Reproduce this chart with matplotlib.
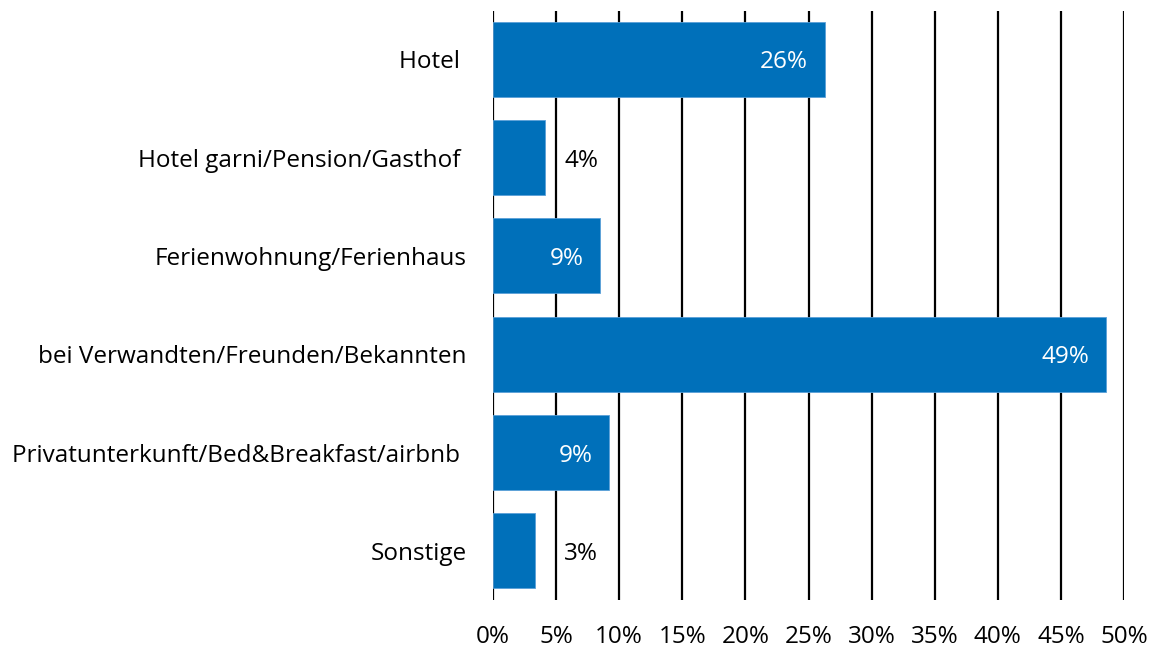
#!/usr/bin/env python3

import matplotlib
matplotlib.use('Agg')
import matplotlib.pyplot as plt

categories = [
    "Hotel ",
    "Hotel garni/Pension/Gasthof ",
    "Ferienwohnung/Ferienhaus",
    "bei Verwandten/Freunden/Bekannten",
    "Privatunterkunft/Bed&Breakfast/airbnb ",
    "Sonstige",
]
values = [26.3, 4.1, 8.5, 48.6, 9.2, 3.3]
value_labels = ["26%", "4%", "9%", "49%", "9%", "3%"]
label_inside = [True, False, True, True, True, False]
xticks = [0, 5, 10, 15, 20, 25, 30, 35, 40, 45, 50]

BLUE = '#0070BA'
FS = 17.5

plt.rcParams['font.family'] = ['Open Sans', 'DejaVu Sans']

fig = plt.figure(figsize=(11.56, 6.48), dpi=100)
ax = fig.add_axes([493/1156, 1 - 600/648, 631/1156, 589/648])

y = list(range(len(categories)))
ax.barh(y, values, height=0.765, color=BLUE, edgecolor='#5aa0d8',
        linewidth=0.6, zorder=3)

for yi, v, lab, inside in zip(y, values, value_labels, label_inside):
    if inside:
        ax.annotate(lab, (v, yi), xytext=(-12, 0), textcoords='offset points',
                    ha='right', va='center_baseline', color='white', fontsize=FS, zorder=4)
    else:
        # small bars: label sits just right of the first gridline
        ax.annotate(lab, (max(v, 4.1), yi), xytext=(14, 0), textcoords='offset points',
                    ha='left', va='center_baseline', color='black', fontsize=FS, zorder=4)

ax.set_xlim(0, 50)
ax.set_ylim(len(categories) - 0.5, -0.49)
ax.set_xticks(xticks)
ax.set_xticklabels([f"{t}%" for t in xticks], fontsize=FS)
ax.set_yticks(y)
ax.set_yticklabels(categories, fontsize=FS)
ax.tick_params(axis='both', length=0)
ax.tick_params(axis='y', pad=19)
ax.tick_params(axis='x', pad=18)

for t in xticks:
    ax.axvline(t, color='black', linewidth=1.6, zorder=1)

for s in ax.spines.values():
    s.set_visible(False)

fig.savefig('out.png', dpi=100)
